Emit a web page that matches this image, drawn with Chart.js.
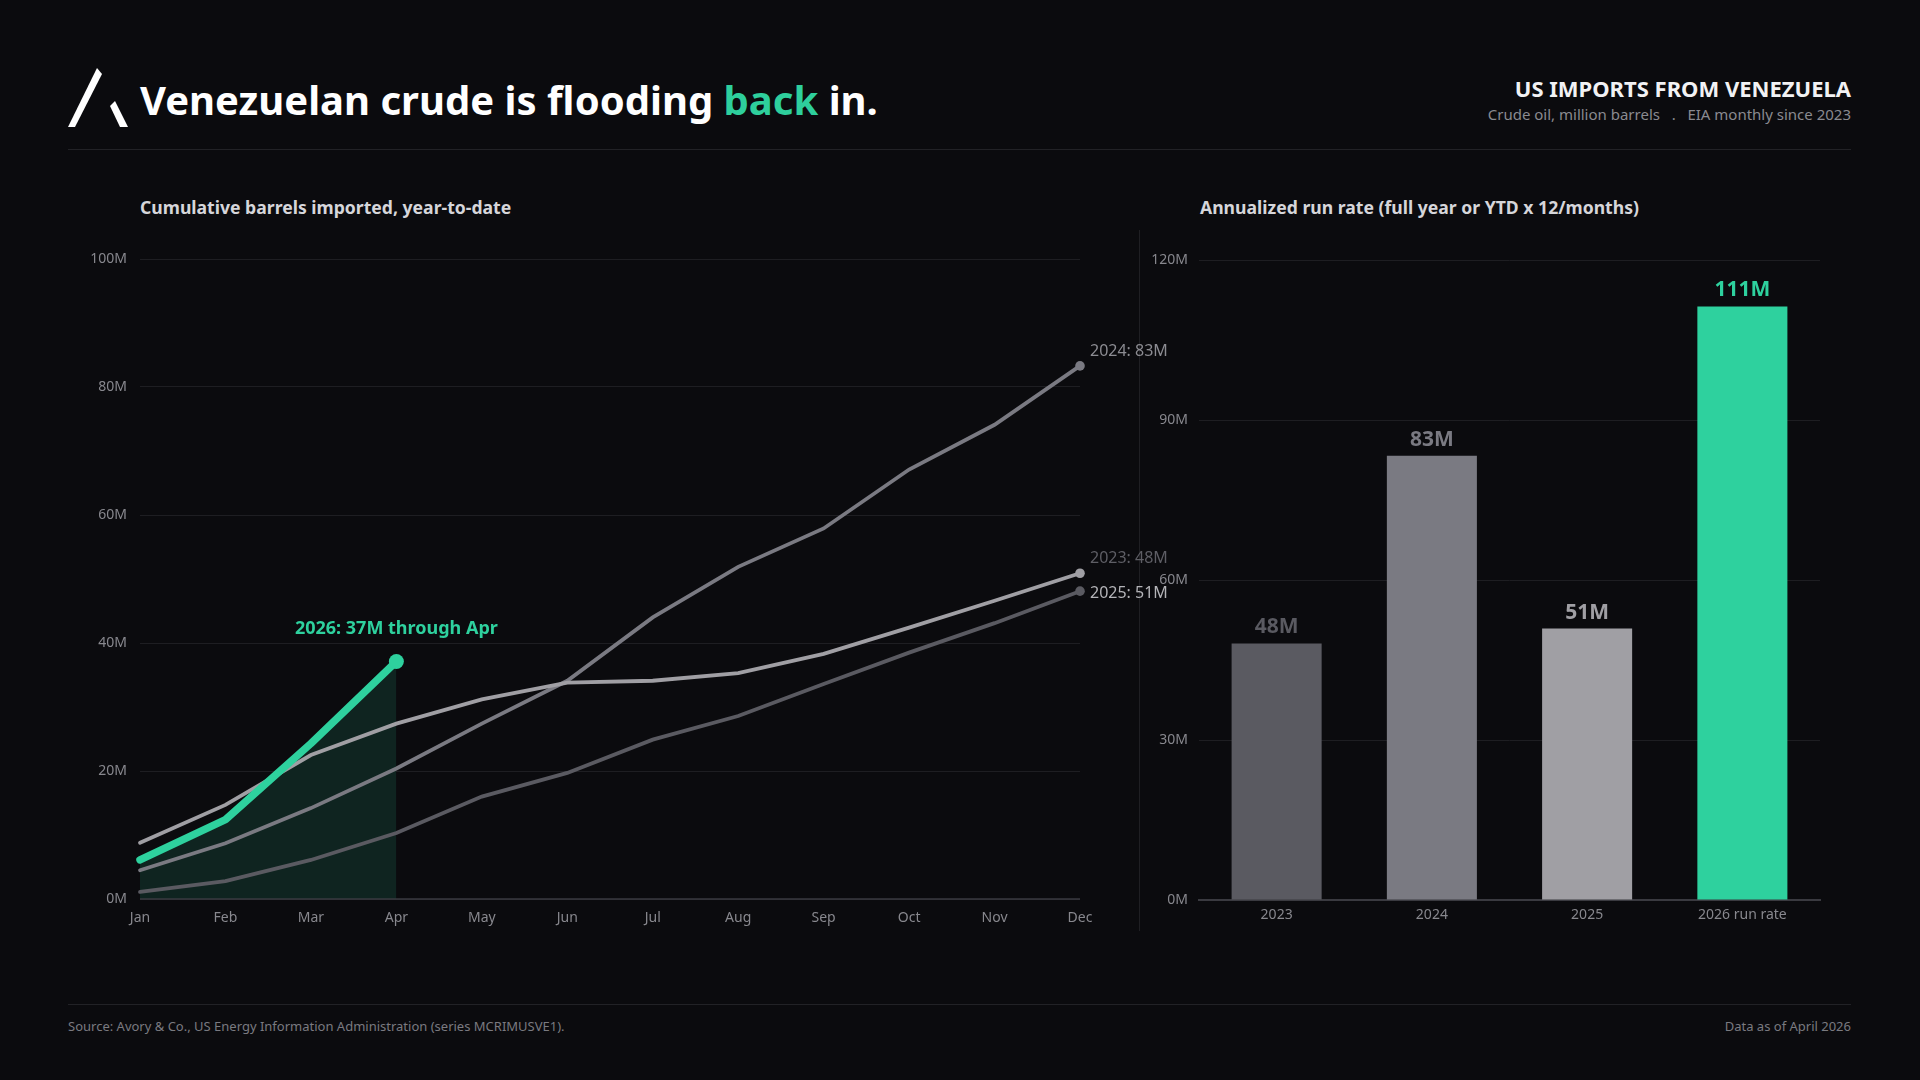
<!DOCTYPE html>
<html>
<head>
<meta charset="utf-8">
<script src="https://cdn.jsdelivr.net/npm/chart.js@4.4.1/dist/chart.umd.min.js"></script>
<style>
  html, body { margin:0; padding:0; background:#0b0b0e; }
  body { width:1920px; height:1080px; position:relative; overflow:hidden; font-family:"Noto Sans","Open Sans",sans-serif; }
  .abs { position:absolute; }
  #title { left:140px; top:76px; font-size:40px; line-height:48px; font-weight:700; color:#ffffff; white-space:nowrap; }
  #title .hl { color:#2ecf9c; }
  #rtitle { right:69px; top:75px; font-size:22px; line-height:26px; font-weight:700; color:#f2f2f4; white-space:nowrap; text-align:right; }
  #rsub { right:69px; top:104px; font-size:15px; line-height:20px; color:#8a8a90; white-space:pre; text-align:right; }
  .rule { background:#222226; height:1px; }
  .ptitle { font-size:17.6px; line-height:22px; font-weight:700; color:#d6d6da; white-space:nowrap; }
  #foot { left:68px; top:1016px; font-size:13px; line-height:20px; color:#7a7a80; white-space:nowrap; }
  #footr { right:69px; top:1016px; font-size:13px; line-height:20px; color:#7a7a80; white-space:nowrap; }
</style>
</head>
<body>
<svg class="abs" style="left:0;top:0" width="200" height="150">
  <polygon points="68,127 75,127 102,74 97,68" fill="#ffffff"/>
  <polygon points="110,106 115,101 128,127 120,127" fill="#ffffff"/>
</svg>
<div id="title" class="abs">Venezuelan crude is flooding <span class="hl">back</span> in.</div>
<div id="rtitle" class="abs">US IMPORTS FROM VENEZUELA</div>
<div id="rsub" class="abs">Crude oil, million barrels   .   EIA monthly since 2023</div>
<div class="abs rule" style="left:68px;top:149px;width:1783px;"></div>

<div class="abs ptitle" style="left:140px;top:196px;">Cumulative barrels imported, year-to-date</div>
<div class="abs ptitle" style="left:1200px;top:196px;">Annualized run rate (full year or YTD x 12/months)</div>

<div class="abs" style="left:1139px;top:230px;width:1px;height:701px;background:#1f1f23;"></div>

<div class="abs" style="left:60px;top:230px;width:1130px;height:710px;"><canvas id="lineChart"></canvas></div>
<div class="abs" style="left:1140px;top:230px;width:700px;height:710px;"><canvas id="barChart"></canvas></div>

<div class="abs rule" style="left:68px;top:1004px;width:1783px;"></div>
<div id="foot" class="abs">Source: Avory &amp; Co., US Energy Information Administration (series MCRIMUSVE1).</div>
<div id="footr" class="abs">Data as of April 2026</div>

<script>
// ---- data ----
const months = ['Jan','Feb','Mar','Apr','May','Jun','Jul','Aug','Sep','Oct','Nov','Dec'];
const cum2023 = [1.1, 2.8, 6.1, 10.3, 16.0, 19.7, 24.9, 28.6, 33.6, 38.5, 43.1, 48.1];
const cum2024 = [4.5, 8.7, 14.2, 20.4, 27.4, 34.1, 44.0, 51.9, 57.9, 67.1, 74.1, 83.3];
const cum2025 = [8.8, 14.7, 22.5, 27.4, 31.2, 33.8, 34.1, 35.3, 38.3, 42.4, 46.6, 50.9];
const cum2026 = [6.1, 12.4, 24.3, 37.1];
const lineTicks = [0, 20, 40, 60, 80, 100];

const barCategories = ['2023', '2024', '2025', '2026 run rate'];
const runRate = [48.1, 83.3, 50.9, 111.3];
const barTicks = [0, 30, 60, 90, 120];

// ---- styles ----
const C2023 = '#5a5a61', C2024 = '#7a7a82', C2025 = '#a09fa4', CGREEN = '#2ed19e';
const GRID = '#1e1e22', TICK = '#88888e', FONT = '"Noto Sans","Open Sans",sans-serif';
Chart.defaults.font.family = FONT;
Chart.defaults.color = TICK;

function lastPointRadius(r, n) {
  return ctx => (ctx.dataIndex === n - 1 ? r : 0);
}

const linePlugin = {
  id: 'lineExtras',
  afterDatasetsDraw(chart) {
    const ctx = chart.ctx, xs = chart.scales.x, ys = chart.scales.y, a = chart.chartArea;
    ctx.save();
    // baseline
    ctx.strokeStyle = '#3a3a40'; ctx.lineWidth = 1.5;
    ctx.beginPath(); ctx.moveTo(a.left, ys.getPixelForValue(0)); ctx.lineTo(a.right, ys.getPixelForValue(0)); ctx.stroke();
    // end labels
    const ends = [
      { txt: '2024: ' + Math.round(cum2024[11]) + 'M', ref: cum2024[11], dy: -14, color: '#8c8c92' },
      { txt: '2023: ' + Math.round(cum2023[11]) + 'M', ref: cum2025[11], dy: -15, color: '#5e5e65' },
      { txt: '2025: ' + Math.round(cum2025[11]) + 'M', ref: cum2023[11], dy: 2, color: '#b4b4b8' }
    ];
    ctx.font = '16px ' + FONT; ctx.textAlign = 'left'; ctx.textBaseline = 'middle';
    const xe = xs.getPixelForValue(11) + 10;
    ends.forEach(e => { ctx.fillStyle = e.color; ctx.fillText(e.txt, xe, ys.getPixelForValue(e.ref) + e.dy); });
    // 2026 annotation
    const li = cum2026.length - 1;
    ctx.font = 'bold 18px ' + FONT; ctx.textAlign = 'center'; ctx.fillStyle = CGREEN;
    ctx.fillText('2026: ' + Math.round(cum2026[li]) + 'M through ' + months[li], xs.getPixelForValue(li), ys.getPixelForValue(cum2026[li]) - 33);
    ctx.restore();
  }
};

new Chart(document.getElementById('lineChart'), {
  type: 'line',
  data: {
    labels: months,
    datasets: [
      { label: '2026', data: cum2026, borderColor: CGREEN, borderWidth: 7.5, pointRadius: lastPointRadius(7.5, cum2026.length),
        pointBackgroundColor: CGREEN, pointBorderWidth: 0, tension: 0, fill: false, order: 0, clip: false, borderCapStyle: 'round', borderJoinStyle: 'round' },
      { label: '2025', data: cum2025, borderColor: C2025, borderWidth: 3.8, pointRadius: lastPointRadius(4.8, 12),
        pointBackgroundColor: C2025, pointBorderWidth: 0, tension: 0, fill: false, order: 1, clip: false, borderCapStyle: 'round' },
      { label: '2024', data: cum2024, borderColor: C2024, borderWidth: 3.8, pointRadius: lastPointRadius(4.8, 12),
        pointBackgroundColor: C2024, pointBorderWidth: 0, tension: 0, fill: false, order: 2, clip: false, borderCapStyle: 'round' },
      { label: '2023', data: cum2023, borderColor: C2023, borderWidth: 3.8, pointRadius: lastPointRadius(4.8, 12),
        pointBackgroundColor: C2023, pointBorderWidth: 0, tension: 0, fill: false, order: 3, clip: false, borderCapStyle: 'round' },
      { label: '2026 area', data: cum2026, borderWidth: 0, borderColor: 'rgba(0,0,0,0)', pointRadius: 0, tension: 0,
        fill: 'origin', backgroundColor: '#0f2420', order: 10 }
    ]
  },
  options: {
    responsive: true, maintainAspectRatio: false, animation: false, devicePixelRatio: 1,
    layout: { padding: { left: 0, right: 110, top: 29, bottom: 0 } },
    plugins: { legend: { display: false }, tooltip: { enabled: false } },
    scales: {
      x: {
        offset: false,
        grid: { display: false, drawTicks: false },
        border: { display: false },
        ticks: { color: TICK, font: { size: 14 }, padding: 11, maxRotation: 0, autoSkip: false },
        afterFit: s => { s.height = 41; }
      },
      y: {
        min: 0, max: 100,
        afterBuildTicks: s => { s.ticks = lineTicks.map(v => ({ value: v })); },
        grid: { color: GRID, lineWidth: 1, drawTicks: false },
        border: { display: false },
        ticks: { color: TICK, font: { size: 14 }, padding: 13, callback: v => v + 'M' },
        afterFit: s => { s.width = 80; }
      }
    }
  },
  plugins: [linePlugin]
});

const barPlugin = {
  id: 'barLabels',
  afterDatasetsDraw(chart) {
    const ctx = chart.ctx, meta = chart.getDatasetMeta(0), ds = chart.data.datasets[0];
    ctx.save();
    ctx.font = 'bold 21px ' + FONT; ctx.textAlign = 'center'; ctx.textBaseline = 'alphabetic';
    meta.data.forEach((bar, i) => {
      ctx.fillStyle = ds.backgroundColor[i];
      ctx.fillText(Math.round(ds.data[i]) + 'M', bar.x, bar.y - 10);
    });
    ctx.restore();
  }
};

new Chart(document.getElementById('barChart'), {
  type: 'bar',
  data: {
    labels: barCategories,
    datasets: [{
      data: runRate,
      backgroundColor: [C2023, C2024, C2025, CGREEN],
      borderWidth: 0,
      barPercentage: 0.58, categoryPercentage: 1.0
    }]
  },
  options: {
    responsive: true, maintainAspectRatio: false, animation: false, devicePixelRatio: 1,
    layout: { padding: { left: 0, right: 20, top: 30, bottom: 0 } },
    plugins: { legend: { display: false }, tooltip: { enabled: false } },
    scales: {
      x: {
        grid: { display: false, drawTicks: false },
        border: { display: true, color: '#3a3a40', width: 2 },
        ticks: { color: TICK, font: { size: 14 }, padding: 7 },
        afterFit: s => { s.height = 40; }
      },
      y: {
        min: 0, max: 120,
        afterBuildTicks: s => { s.ticks = barTicks.map(v => ({ value: v })); },
        grid: { color: GRID, lineWidth: 1, drawTicks: false },
        border: { display: false },
        ticks: { color: TICK, font: { size: 14 }, padding: 11, callback: v => v + 'M' },
        afterFit: s => { s.width = 59; }
      }
    }
  },
  plugins: [barPlugin]
});
</script>
</body>
</html>
